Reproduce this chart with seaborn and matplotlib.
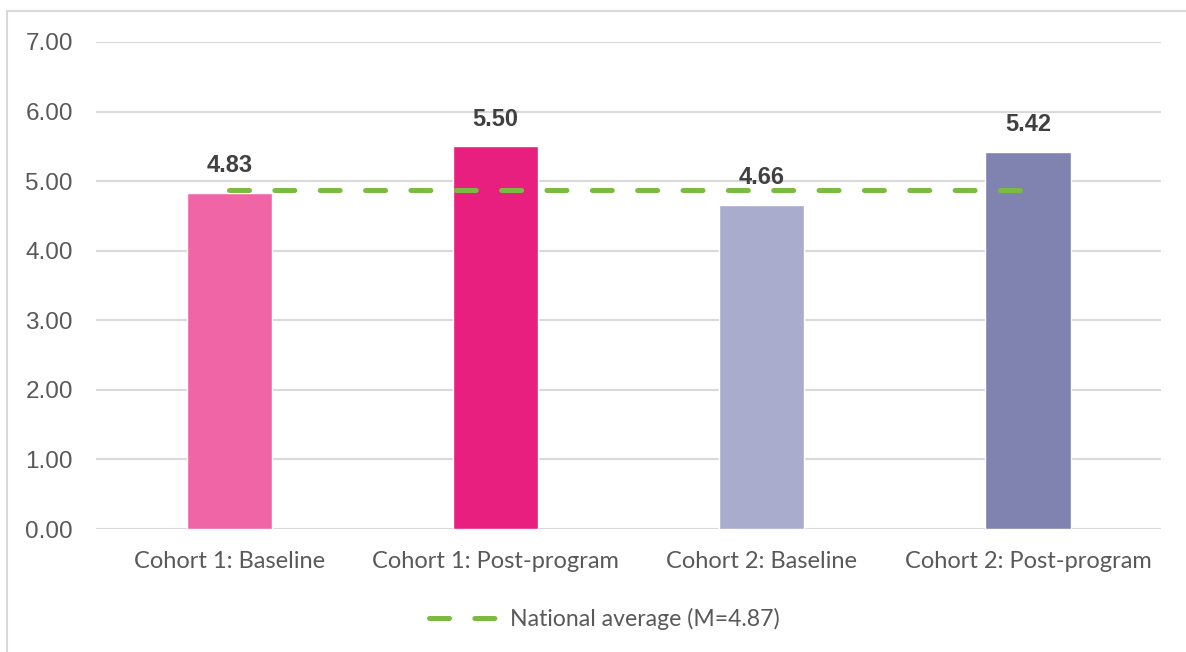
import matplotlib
matplotlib.use("Agg")
import matplotlib.pyplot as plt
from matplotlib.patches import Rectangle
from matplotlib.lines import Line2D
import seaborn as sns
import pandas as pd

# Scores per group
categories = ["Cohort 1: Baseline", "Cohort 1: Post-program",
              "Cohort 2: Baseline", "Cohort 2: Post-program"]
scores = [4.83, 5.50, 4.66, 5.42]
national_average = 4.87
bar_colors = ["#F065A6", "#E81F7F", "#AAACCD", "#8082B0"]
avg_color = "#7CBB42"
y_ticks = [0, 1, 2, 3, 4, 5, 6, 7]

df = pd.DataFrame({"group": categories, "score": scores})

sns.set_theme(style="white")
plt.rcParams["font.family"] = ["Liberation Sans", "DejaVu Sans"]

W, H = 1186, 652
fig = plt.figure(figsize=(W / 100, H / 100), dpi=100)
ax = fig.add_axes([96.4 / W, 1 - 529 / H, (1161 - 96.4) / W, (529 - 42) / H])

sns.barplot(data=df, x="group", y="score", hue="group", palette=bar_colors,
            saturation=1, width=0.32, legend=False, ax=ax, zorder=2)

# Value labels above bars
for i, v in enumerate(scores):
    ax.annotate(f"{v:.2f}", xy=(i, v), xytext=(0, 15), textcoords="offset points",
                ha="center", va="baseline", fontsize=17, fontweight="bold",
                color="#404040", zorder=4)

# National average reference line
dash = (0, (4, 5.07))
ax.plot([0, 3], [national_average, national_average], color=avg_color, lw=3.6,
        linestyle=dash, dash_capstyle="round", zorder=3)

ax.set_xlim(-0.5, 3.5)
ax.set_ylim(0, 7)
ax.set_yticks(y_ticks)
ax.set_yticklabels([f"{t:.2f}" for t in y_ticks])
ax.yaxis.grid(True, color="#D9D9D9", lw=1.5, zorder=0)
ax.set_axisbelow(True)
for s in ax.spines.values():
    s.set_visible(False)
ax.set_xlabel("")
ax.set_ylabel("")
ax.tick_params(axis="y", length=0, pad=17, labelsize=17.5, labelcolor="#595959")
ax.tick_params(axis="x", length=0, pad=16, labelsize=17, labelcolor="#595959")
for lbl in ax.get_xticklabels():
    lbl.set_fontfamily(["Lato", "DejaVu Sans"])

handle = Line2D([], [], color=avg_color, lw=3.6, linestyle=dash,
                dash_capstyle="round")
leg = fig.legend([handle], [f"National average (M={national_average:.2f})"],
                 loc="center", bbox_to_anchor=(604 / W, 1 - 619 / H),
                 frameon=False, handlelength=2.9, handletextpad=0.6,
                 prop={"family": ["Lato", "DejaVu Sans"], "size": 16.6})
for t in leg.get_texts():
    t.set_color("#595959")

# Chart area outline
fig.patches.append(Rectangle((7 / W, -0.1), 1.2, 1 - 11 / H + 0.1,
                             transform=fig.transFigure, fill=False,
                             edgecolor="#D9D9D9", lw=1.5))

fig.savefig("out.png", dpi=100)
